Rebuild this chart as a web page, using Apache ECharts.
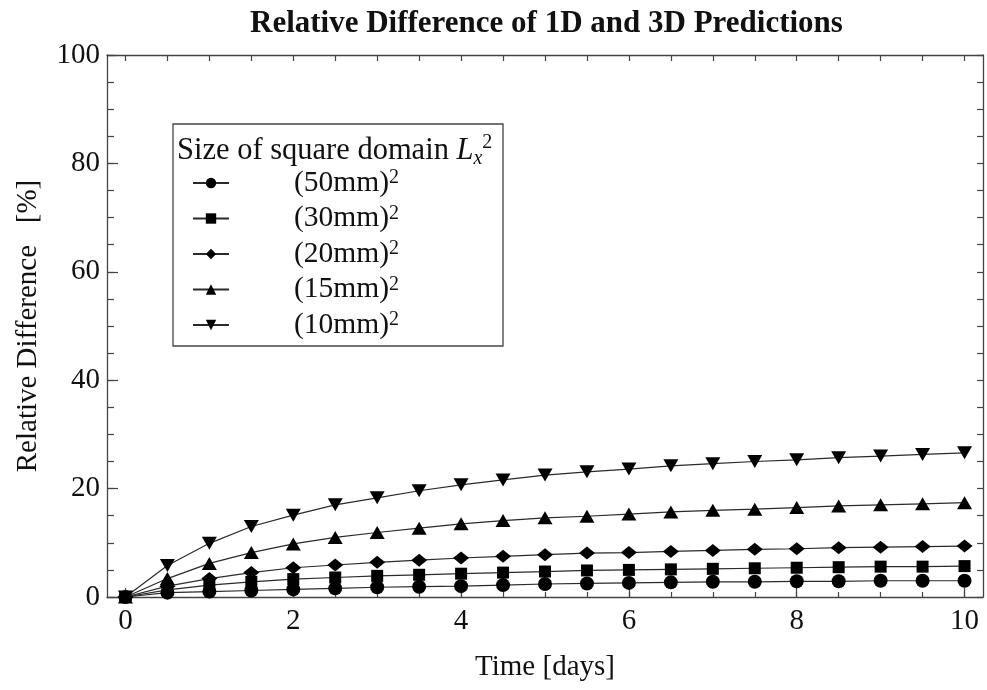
<!DOCTYPE html>
<html>
<head>
<meta charset="utf-8">
<title>Relative Difference of 1D and 3D Predictions</title>
<script src="https://cdn.jsdelivr.net/npm/echarts@6/dist/echarts.min.js"></script>
<style>
  html, body { margin: 0; padding: 0; background: #fff; }
  #chart { width: 987px; height: 690px; }
</style>
</head>
<body>
<div id="chart"></div>
<script>
// Time points [days]
const days = [0, 0.5, 1, 1.5, 2, 2.5, 3, 3.5, 4, 4.5, 5, 5.5, 6, 6.5, 7, 7.5, 8, 8.5, 9, 9.5, 10];

// Relative difference [%] for each square domain size
const diff50mm = [0, 0.8, 1.0, 1.2, 1.4, 1.6, 1.8, 1.9, 2.0, 2.2, 2.4, 2.5, 2.6, 2.7, 2.8, 2.8, 2.9, 2.9, 3.0, 3.0, 3.0];
const diff30mm = [0, 1.3, 2.2, 2.8, 3.3, 3.6, 3.9, 4.1, 4.3, 4.5, 4.7, 4.9, 5.0, 5.1, 5.2, 5.3, 5.4, 5.5, 5.6, 5.6, 5.7];
const diff20mm = [0, 2.0, 3.4, 4.5, 5.4, 5.9, 6.4, 6.8, 7.2, 7.5, 7.8, 8.1, 8.2, 8.4, 8.6, 8.8, 8.9, 9.1, 9.2, 9.3, 9.4];
const diff15mm = [0, 3.4, 6.2, 8.2, 9.8, 11.0, 11.9, 12.7, 13.5, 14.1, 14.6, 14.9, 15.3, 15.7, 16.0, 16.2, 16.5, 16.8, 17.0, 17.2, 17.4];
const diff10mm = [0, 5.8, 9.9, 13.0, 15.1, 17.0, 18.3, 19.6, 20.7, 21.6, 22.5, 23.1, 23.6, 24.2, 24.6, 25.0, 25.3, 25.7, 26.0, 26.3, 26.6];

const seriesNames = ['(50mm)', '(30mm)', '(20mm)', '(15mm)', '(10mm)'];

// Tick positions
const xMajorTicks = [0, 2, 4, 6, 8, 10];
const xMinorTicks = [0, 0.5, 1, 1.5, 2, 2.5, 3, 3.5, 4, 4.5, 5, 5.5, 6, 6.5, 7, 7.5, 8, 8.5, 9, 9.5, 10];
const yMajorTicks = [0, 20, 40, 60, 80, 100];
const yMinorTicks = [0, 5, 10, 15, 20, 25, 30, 35, 40, 45, 50, 55, 60, 65, 70, 75, 80, 85, 90, 95, 100];

const FONT = '"Liberation Serif", "DejaVu Serif", serif';
const INK = '#111';
const FRAME = '#444';

function pairs(ys) {
  return days.map((d, i) => [d, ys[i]]);
}

const markerDefs = [
  { symbol: 'circle', size: 14, rotate: 0 },
  { symbol: 'rect', size: 12, rotate: 0 },
  { symbol: 'diamond', size: [16, 13], rotate: 0 },
  { symbol: 'triangle', size: [15, 13], rotate: 0 },
  { symbol: 'triangle', size: [15, 13], rotate: 180 }
];
const seriesData = [diff50mm, diff30mm, diff20mm, diff15mm, diff10mm];

const series = seriesData.map((ys, i) => ({
  name: seriesNames[i],
  type: 'line',
  xAxisIndex: 0,
  yAxisIndex: 0,
  data: pairs(ys),
  symbol: markerDefs[i].symbol,
  symbolSize: markerDefs[i].size,
  symbolRotate: markerDefs[i].rotate,
  showAllSymbol: true,
  lineStyle: { color: '#2a2a2a', width: 1.2 },
  itemStyle: { color: '#000' },
  emphasis: { disabled: true },
  z: 2 + i
}));

const xRange = { min: -0.22, max: 10.22 };
const yRange = { min: 0, max: 100 };
const frameLine = { show: true, onZero: false, lineStyle: { color: FRAME, width: 1.3 } };
const noLine = { show: false, onZero: false };
const tickStyle = { color: FRAME, width: 1.2 };

const option = {
  animation: false,
  backgroundColor: '#fff',
  title: {
    text: 'Relative Difference of 1D and 3D Predictions',
    left: 245,
    top: 3,
    textStyle: { fontFamily: FONT, fontWeight: 'bold', fontSize: 31, color: INK }
  },
  grid: { left: 107, top: 55, width: 876, height: 542 },
  legend: {
    orient: 'vertical',
    left: 192,
    top: 168,
    padding: 0,
    itemWidth: 36,
    itemHeight: 13,
    itemGap: 5.5,
    selectedMode: false,
    data: seriesNames,
    formatter: name => '{p| }{t|' + name + '}{s|2}',
    textStyle: {
      color: INK,
      rich: {
        p: { width: 60, fontSize: 10, lineHeight: 30 },
        t: { fontFamily: FONT, fontSize: 29.5, lineHeight: 30, color: INK },
        s: { fontFamily: FONT, fontSize: 20, lineHeight: 14, verticalAlign: 'top', color: INK }
      }
    }
  },
  graphic: [
    {
      type: 'rect',
      shape: { x: 173, y: 124, width: 330, height: 222 },
      style: { fill: 'none', stroke: FRAME, lineWidth: 1.3 },
      z: 10
    },
    {
      type: 'text',
      left: 177,
      top: 133,
      style: {
        text: '{t|Size of square domain }{i|L}{b|x}{s|2}',
        rich: {
          t: { fontFamily: FONT, fontSize: 30.5, lineHeight: 36, fill: INK },
          i: { fontFamily: FONT, fontStyle: 'italic', fontSize: 30.5, lineHeight: 36, fill: INK },
          b: { fontFamily: FONT, fontStyle: 'italic', fontSize: 20, lineHeight: 17, verticalAlign: 'bottom', fill: INK },
          s: { fontFamily: FONT, fontSize: 20, lineHeight: 16, verticalAlign: 'top', fill: INK }
        }
      },
      z: 10
    }
  ],
  xAxis: [
    {
      type: 'value', position: 'bottom', ...xRange,
      axisLine: frameLine,
      splitLine: { show: false },
      axisTick: { show: true, inside: true, length: 9, customValues: xMajorTicks, lineStyle: tickStyle },
      axisLabel: { show: true, customValues: xMajorTicks, margin: 10, fontFamily: FONT, fontSize: 29, color: INK },
      name: 'Time [days]',
      nameLocation: 'middle',
      nameGap: 56,
      nameTextStyle: { fontFamily: FONT, fontSize: 29, color: INK }
    },
    {
      type: 'value', position: 'bottom', ...xRange,
      axisLine: noLine,
      splitLine: { show: false },
      axisTick: { show: true, inside: true, length: 5, customValues: xMinorTicks, lineStyle: tickStyle },
      axisLabel: { show: false }
    },
    {
      type: 'value', position: 'top', ...xRange,
      axisLine: frameLine,
      splitLine: { show: false },
      axisTick: { show: true, inside: true, length: 6, customValues: xMinorTicks, lineStyle: tickStyle },
      axisLabel: { show: false }
    }
  ],
  yAxis: [
    {
      type: 'value', position: 'left', ...yRange,
      axisLine: frameLine,
      splitLine: { show: false },
      axisTick: { show: true, inside: true, length: 11, customValues: yMajorTicks, lineStyle: tickStyle },
      axisLabel: { show: true, customValues: yMajorTicks, margin: 7, fontFamily: FONT, fontSize: 29, color: INK },
      name: 'Relative Difference   [%]',
      nameLocation: 'middle',
      nameGap: 64,
      nameTextStyle: { fontFamily: FONT, fontSize: 29, color: INK }
    },
    {
      type: 'value', position: 'left', ...yRange,
      axisLine: noLine,
      splitLine: { show: false },
      axisTick: { show: true, inside: true, length: 7, customValues: yMinorTicks, lineStyle: tickStyle },
      axisLabel: { show: false }
    },
    {
      type: 'value', position: 'right', ...yRange,
      axisLine: frameLine,
      splitLine: { show: false },
      axisTick: { show: true, inside: true, length: 6, customValues: yMinorTicks, lineStyle: tickStyle },
      axisLabel: { show: false }
    }
  ],
  series: series
};

const chart = echarts.init(document.getElementById('chart'), null, { renderer: 'canvas' });
chart.setOption(option);
</script>
</body>
</html>
